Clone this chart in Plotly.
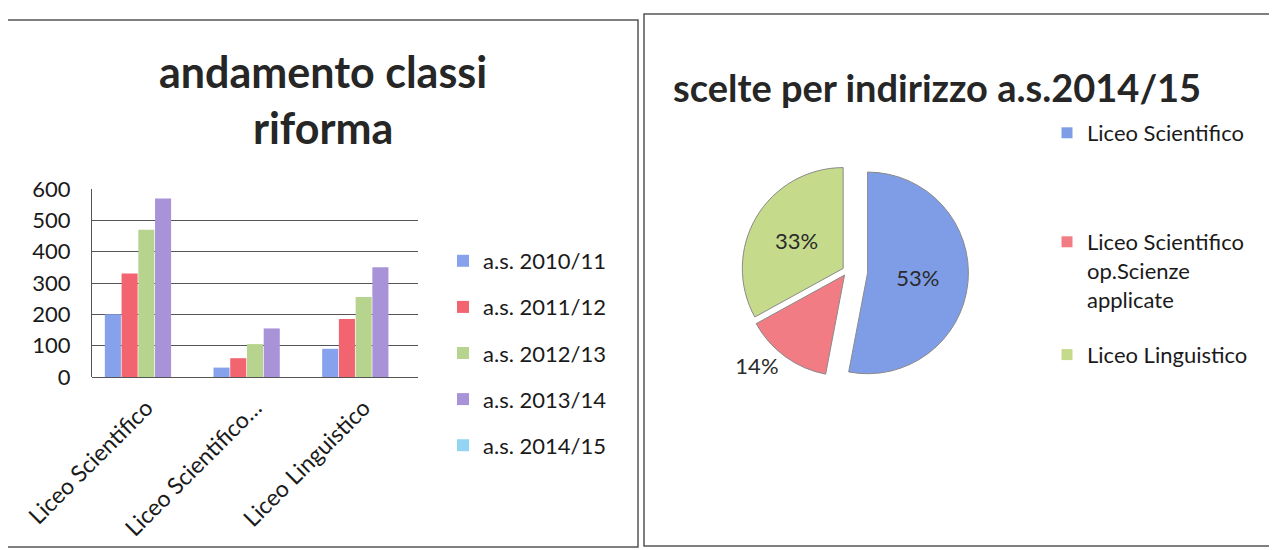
import plotly.graph_objects as go

# ---------------- data ----------------
categories = ["Liceo Scientifico", "Liceo Scientifico op.Scienze applicate", "Liceo Linguistico"]
category_ticks = ["Liceo Scientifico", "Liceo Scientifico…", "Liceo Linguistico"]
series_names = ["a.s. 2010/11", "a.s. 2011/12", "a.s. 2012/13", "a.s. 2013/14", "a.s. 2014/15"]
vals_2010 = [200, 30, 90]
vals_2011 = [330, 60, 185]
vals_2012 = [470, 105, 255]
vals_2013 = [570, 155, 350]
vals_2014 = [0, 0, 0]
bar_colors = ["#86a2ec", "#f2646f", "#b7d48e", "#a892d8", "#93d3f3"]

pie_labels = ["Liceo Scientifico", "Liceo Scientifico op.Scienze applicate", "Liceo Linguistico"]
pie_legend_text = ["Liceo Scientifico", "Liceo Scientifico<br>op.Scienze<br>applicate", "Liceo Linguistico"]
pie_values = [53, 14, 33]
pie_colors = ["#7f9de6", "#f27c83", "#c5da8a"]

y_ticks = [0, 100, 200, 300, 400, 500, 600]

W, H = 1277, 550
FONT = "Lato"
OFF = 8  # the page body adds an 8px margin; positions below are page pixels


def px(x):
    return (x - OFF) / W


def py(y):
    return 1 - (y - OFF) / H


fig = go.Figure()

all_vals = [vals_2010, vals_2011, vals_2012, vals_2013, vals_2014]
for name, vals, col in zip(series_names, all_vals, bar_colors):
    fig.add_trace(go.Bar(
        x=categories, y=vals, name=name,
        marker=dict(color=col, line=dict(width=0)),
        legend="legend", legendgroup=name,
    ))

fig.add_trace(go.Pie(
    labels=pie_labels, values=pie_values, sort=False, direction="clockwise", rotation=0,
    marker=dict(colors=pie_colors, line=dict(color="#8a8a8a", width=1)),
    pull=[0.2, 0.05, 0.05],
    textinfo="percent", texttemplate="%{percent:.0%}",
    textposition=["inside", "outside", "inside"],
    textfont=dict(family=FONT, size=22, color="#2a2a2a"),
    insidetextorientation="horizontal",
    domain=dict(x=[px(690), px(1005)], y=[py(392), py(150)]),
    showlegend=False,
))

# legend entries for the pie (one per slice)
for i, (lab, col) in enumerate(zip(pie_legend_text, pie_colors)):
    fig.add_trace(go.Scatter(
        x=[None], y=[None], mode="markers", name=lab,
        marker=dict(symbol="square", size=11, color=col),
        legend="legend2" if i == 0 else "legend3", legendgroup="p" + str(i),
        hoverinfo="skip",
    ))

fig.update_layout(
    width=W, height=H,
    margin=dict(l=0, r=0, t=0, b=0, autoexpand=False),
    paper_bgcolor="white", plot_bgcolor="white",
    font=dict(family=FONT, size=22, color="#1a1a1a"),
    barmode="group", bargap=0.23, bargroupgap=0.04,
    xaxis=dict(
        domain=[px(92), px(418)], automargin=False,
        tickmode="array", tickvals=categories, ticktext=category_ticks,
        tickangle=-45, tickfont=dict(family=FONT, size=23, color="#1a1a1a"),
        showgrid=False, showline=False, ticks="", zeroline=False,
        ticklabelstandoff=12,
    ),
    yaxis=dict(
        domain=[py(377), py(189)], automargin=False,
        range=[0, 600], tickvals=y_ticks,
        tickfont=dict(family=FONT, size=22, color="#1a1a1a"),
        showgrid=True, gridcolor="#555555", gridwidth=1,
        showline=True, linecolor="#555555", linewidth=1,
        zeroline=True, zerolinecolor="#555555", zerolinewidth=1,
        ticks="", ticklabelstandoff=16,
    ),
    legend=dict(
        x=px(443), y=py(240), xanchor="left", yanchor="top",
        font=dict(family=FONT, size=22, color="#1a1a1a"),
        tracegroupgap=14.5, bgcolor="rgba(0,0,0,0)", itemclick=False,
    ),
    legend2=dict(
        x=px(1047), y=py(112), xanchor="left", yanchor="top",
        font=dict(family=FONT, size=22, color="#1a1a1a"),
        bgcolor="rgba(0,0,0,0)", itemclick=False,
    ),
    legend3=dict(
        x=px(1047), y=py(221), xanchor="left", yanchor="top",
        font=dict(family=FONT, size=22, color="#1a1a1a"),
        tracegroupgap=24, valign="top", bgcolor="rgba(0,0,0,0)", itemclick=False,
    ),
    annotations=[
        dict(text="<b>andamento classi<br>riforma</b>", x=px(323), y=py(100), xref="paper", yref="paper",
             xanchor="center", yanchor="middle", showarrow=False,
             font=dict(family=FONT, size=43, color="#262626")),
        dict(text="<b>scelte per indirizzo a.s.2014/15</b>", x=px(671), y=py(87), xref="paper", yref="paper",
             xanchor="left", yanchor="middle", showarrow=False,
             font=dict(family=FONT, size=38, color="#262626")),
    ],
    shapes=[
        dict(type="rect", xref="paper", yref="paper", x0=px(7), x1=px(638), y0=py(547), y1=py(20),
             line=dict(color="#555555", width=1.5)),
        dict(type="rect", xref="paper", yref="paper", x0=px(644), x1=px(1300), y0=py(546), y1=py(14),
             line=dict(color="#555555", width=1.5)),
    ],
)

fig.write_html("out.html")
